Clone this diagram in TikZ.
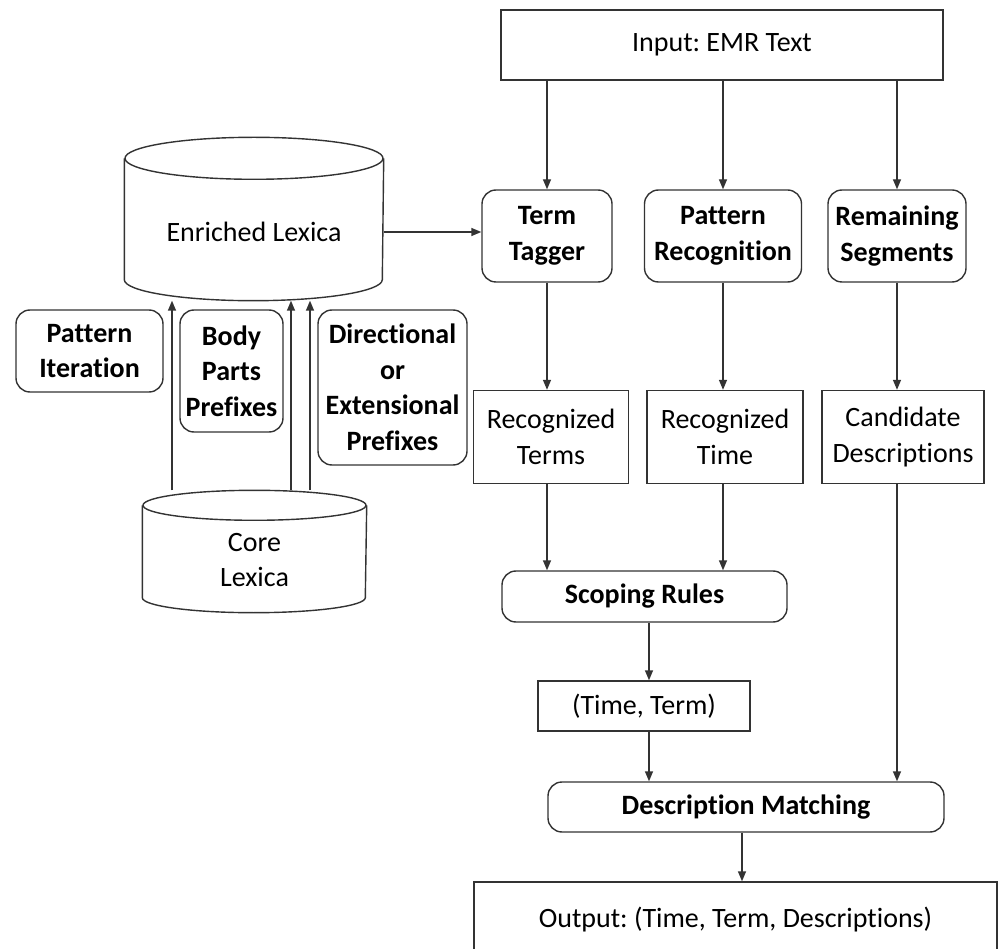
\documentclass[tikz,border=0pt]{standalone}
\usepackage{fontspec}
\setmainfont{Carlito}[Ligatures=NoCommon]
\usepackage{tikz}
\usetikzlibrary{arrows.meta,calc,positioning}
\frenchspacing

\begin{document}
\begin{tikzpicture}[
    x=1pt, y=-1pt,
    line width=1.4pt,
    >={Triangle[length=10pt,width=8pt]},
    arr/.style={draw=black!80, ->},
    txt/.style={font=\fontsize{28}{35.5}\selectfont, align=center, inner sep=0},
    plain/.style={txt, draw=black!80, rectangle},
    rnd/.style={txt, draw=black!80, rectangle, rounded corners=14pt, font=\fontsize{28}{35.5}\selectfont\bfseries},
    cylbox/.style={rectangle, inner sep=0}]
\useasboundingbox (0,0) rectangle (1002,949);

% lexica on the left
\node[cylbox, minimum width=258, minimum height=162] (enr) at (254,219) {};
\node[txt] (enrtxt) at (254,232) {Enriched Lexica};
\node[cylbox, minimum width=223, minimum height=121] (core) at (254.5,551.5) {};
\node[txt] (coretxt) at (254.5,560) {Core\\Lexica};
\foreach \n/\rx/\ry in {enr/129/21, core/111.5/15} {
    \path[draw=black!80] ($(\n.north west)+(0,\ry)$) -- ($(\n.south west)+(0,-\ry)$)
        arc[start angle=180, end angle=0, x radius=\rx, y radius=\ry] -- ($(\n.north east)+(0,\ry)$);
    \path[draw=black!80] ($(\n.north)+(0,\ry)$) ellipse[x radius=\rx, y radius=\ry];
}
\node[rnd, minimum width=147, minimum height=82]  (pit) at (89.5,351)  {Pattern\\Iteration};
\node[rnd, minimum width=103, minimum height=122] (bpp) at (231.5,371) {Body\\Parts\\Prefixes};
\node[rnd, minimum width=149, minimum height=155] (dep) at (392.5,387.5) {Directional\\or\\Extensional\\Prefixes};

% main pipeline
\node[plain, minimum width=442, minimum height=70] (inp) at (722,45) {Input: EMR Text};
\node[rnd, minimum width=130, minimum height=92] (tt) at (547,236) {Term\\Tagger};
\node[rnd, minimum width=157, minimum height=92] (pr) at (723,236) {Pattern\\Recognition};
\node[rnd, minimum width=138, minimum height=92] (rs) at (897,236) {Remaining\\Segments};
\node[plain, minimum width=155, minimum height=93] (rterms) at (551,437) {Recognized\\Terms};
\node[plain, minimum width=156, minimum height=93] (rtime)  at (725,437) {Recognized\\Time};
\node[plain, minimum width=162, minimum height=93] (cd)     at (903,437) {Candidate\\Descriptions};
\node[rnd, minimum width=285, minimum height=51] (sr) at (644.5,596.5) {Scoping Rules};
\node[plain, minimum width=212, minimum height=50] (tterm) at (644,706) {(Time, Term)};
\node[rnd, minimum width=396, minimum height=50] (dm) at (746,807) {Description Matching};
\node[plain, minimum width=523, minimum height=76] (out) at (735.5,920) {Output: (Time, Term, Descriptions)};

\coordinate (x1) at (172,0);
\coordinate (x2) at (291,0);
\coordinate (x3) at (310,0);
\coordinate (xs) at (649,0);
\coordinate (xd) at (742,0);

\path[arr] (inp.south -| tt) -- (tt);
\path[arr] (inp.south -| pr) -- (pr);
\path[arr] (inp.south -| rs) -- (rs);
\path[arr] (enr.east |- enrtxt) -- (enrtxt -| tt.west);
\path[arr] (tt) -- (tt |- rterms.north);
\path[arr] (pr) -- (pr |- rtime.north);
\path[arr] (rs) -- (rs |- cd.north);
\path[arr] (rterms.south -| tt) -- (tt |- sr.north);
\path[arr] (rtime.south -| pr) -- (pr |- sr.north);
\path[arr] (sr.south -| xs) -- (tterm.north -| xs);
\path[arr] (tterm.south -| xs) -- (dm.north -| xs);
\path[arr] (cd.south -| rs) -- (rs |- dm.north);
\path[arr] (dm.south -| xd) -- (out.north -| xd);
\foreach \c in {x1,x2,x3}
    \path[arr] (core.north -| \c) -- (enr.south -| \c);

\end{tikzpicture}
\end{document}
